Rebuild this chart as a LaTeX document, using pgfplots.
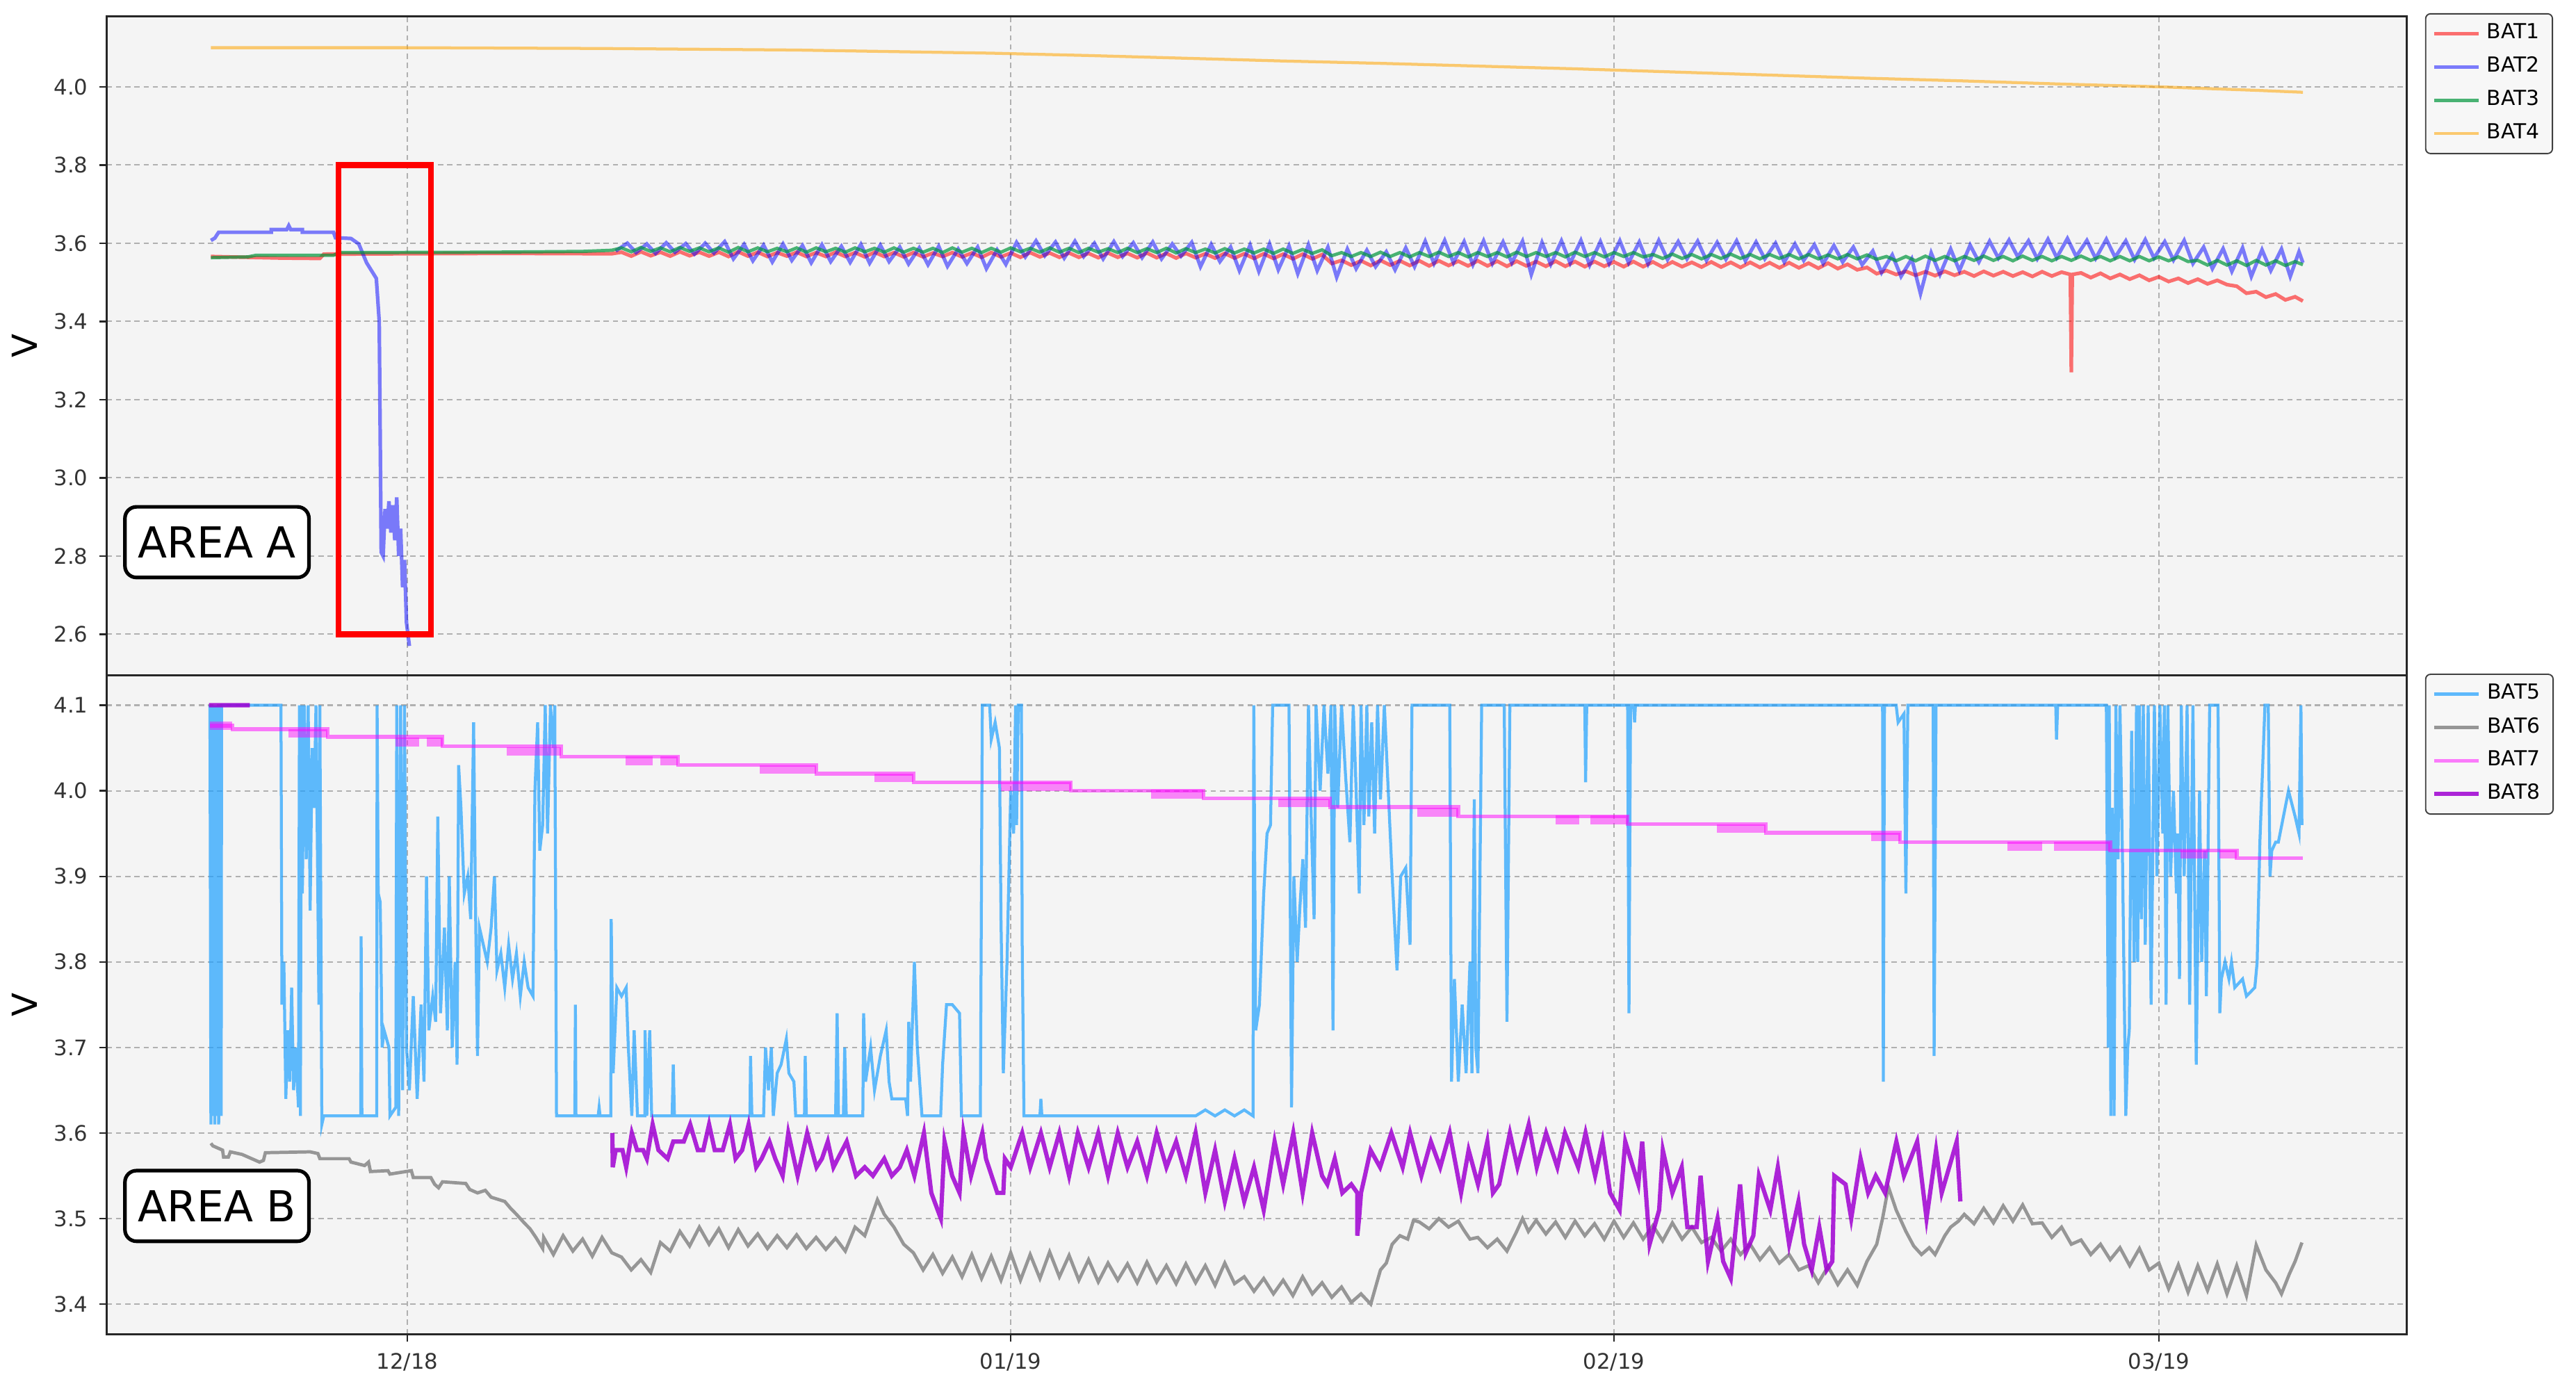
\documentclass[border=0pt]{standalone}
\usepackage{fontspec}
\setmainfont{DejaVu Sans}
\usepackage{pgfplots}
\pgfplotsset{compat=1.18}
\definecolor{bgc}{RGB}{244,244,244}
\definecolor{gridc}{RGB}{176,176,176}
\definecolor{c1}{RGB}{255,0,0}
\definecolor{c2}{RGB}{0,0,255}
\definecolor{c3}{RGB}{0,150,60}
\definecolor{c4}{RGB}{255,165,0}
\definecolor{c5}{RGB}{30,160,255}
\definecolor{c6}{RGB}{150,150,150}
\definecolor{c7}{RGB}{255,0,255}
\definecolor{c8}{RGB}{160,0,210}
\pgfplotsset{
 panel/.style={
  scale only axis, width=700pt, height=200.5pt,
  xmin=-15.45, xmax=102.74,
  axis background/.style={fill=bgc},
  grid=major,
  major grid style={gridc, dash pattern=on 1.6pt off 1.2pt, line width=0.45pt},
  axis line style={black!85, line width=0.7pt},
  tick align=outside, tick pos=left,
  major tick length=2.2pt,
  tick style={black!85, line width=0.5pt},
  tick label style={font=\fontsize{6.5}{7}\selectfont, text=black!80},
  /pgf/number format/assume math mode=true,
  yticklabel style={/pgf/number format/.cd, fixed, fixed zerofill, precision=1},
  xtick={0,31,62,90},
  ylabel={V},
  ylabel style={font=\fontsize{10.5}{12}\selectfont, at={(axis description cs:-0.0357,0.5)}, anchor=center},
  legend cell align=left,
  legend style={font=\fontsize{6.3}{7}\selectfont, draw=black!75, fill=white!97!black, rounded corners=1.5pt, anchor=north west, inner xsep=2pt, inner ysep=1pt, row sep=0pt},
  legend image code/.code={\draw[#1] (0pt,0pt) -- (13.5pt,0pt);},
  unbounded coords=jump,
 }
}
\begin{document}
\begin{tikzpicture}
\useasboundingbox (0,0) rectangle (784pt,421pt);
% ---------------- top panel ----------------
\begin{axis}[panel, at={(32.5pt,215.5pt)}, anchor=south west,
  ymin=2.495, ymax=4.18,
  ytick={2.6,2.8,3.0,3.2,3.4,3.6,3.8,4.0},
  xticklabels={}, xtick style={draw=none},
  legend style={at={(1.0079,1.005)}}]
\addplot[c1, opacity=0.55, line width=1.1pt] coordinates {
(-10.1,3.566) (-6.5,3.562) (-4.5,3.561) (-4.3,3.572) (0,3.573) (5,3.574) (10.5,3.573)
(11,3.577)(11.5,3.567)(12,3.578)(12.5,3.568)(13,3.577)(13.5,3.567)(14,3.578)(14.5,3.568)(15,3.577)(15.5,3.567)(16,3.577)(16.5,3.566)(17,3.578)(17.5,3.567)(18,3.577)(18.5,3.566)(19,3.576)(19.5,3.567)(20,3.577)(20.5,3.566)(21,3.576)(21.5,3.566)(22,3.577)(22.5,3.566)(23,3.576)(23.5,3.565)(24,3.577)(24.5,3.566)(25,3.576)(25.5,3.565)(26,3.576)(26.5,3.565)(27,3.575)(27.5,3.566)(28,3.576)(28.5,3.565)(29,3.575)(29.5,3.564)(30,3.576)(30.5,3.565)(31,3.575)(31.5,3.564)(32,3.576)(32.5,3.565)(33,3.575)(33.5,3.564)(34,3.575)(34.5,3.564)(35,3.574)(35.5,3.563)(36,3.575)(36.5,3.564)(37,3.574)(37.5,3.563)(38,3.575)(38.5,3.563)(39,3.574)(39.5,3.562)(40,3.574)(40.5,3.563)(41,3.573)(41.5,3.562)(42,3.574)(42.5,3.562)(43,3.573)(43.5,3.561)(44,3.573)(44.5,3.561)(45,3.572)(45.5,3.560)(46,3.572)(46.5,3.560)(47,3.571)
(47.5,3.548)(48,3.556)(48.5,3.544)(49,3.555)(49.5,3.543)(50,3.556)(50.5,3.544)(51,3.555)(51.5,3.543)(52,3.555)(52.5,3.542)(53,3.555)(53.5,3.543)(54,3.554)(54.5,3.542)(55,3.555)(55.5,3.542)(56,3.554)(56.5,3.541)(57,3.554)(57.5,3.542)(58,3.553)(58.5,3.541)(59,3.554)(59.5,3.541)(60,3.553)(60.5,3.540)(61,3.553)(61.5,3.541)(62,3.552)(62.5,3.540)(63,3.553)(63.5,3.540)(64,3.552)(64.5,3.539)(65,3.552)(65.5,3.540)(66,3.551)(66.5,3.539)(67,3.552)(67.5,3.539)(68,3.551)(68.5,3.538)(69,3.551)(69.5,3.538)(70,3.550)(70.5,3.537)(71,3.550)(71.5,3.537)(72,3.549)(72.5,3.536)(73,3.549)(73.5,3.535)(74,3.546)(74.5,3.532)(75,3.538)(75.5,3.522)
(76,3.530) (76.5,3.520) (77,3.528) (77.5,3.518) (78,3.527) (78.5,3.517) (79,3.528) (79.5,3.518) (80,3.527) (80.5,3.516) (81,3.528) (81.5,3.517) (82,3.527) (82.5,3.516) (83,3.526) (83.5,3.515) (84,3.527) (84.5,3.516) (85,3.526) (85.45,3.520) (85.5,3.270) (85.55,3.520) (86,3.524) (86.5,3.512) (87,3.523) (87.5,3.510) (88,3.520) (88.5,3.508) (89,3.518) (89.5,3.505) (90,3.514) (90.5,3.502) (91,3.510) (91.5,3.498) (92,3.508) (92.5,3.496) (93,3.505) (93.5,3.494) (94,3.490) (94.5,3.472) (95,3.476) (95.5,3.462) (96,3.470) (96.5,3.455) (97,3.463) (97.4,3.452)
};
\addlegendentry{BAT1}
\addplot[c2, opacity=0.5, line width=1.1pt] coordinates {
(-10.1,3.607) (-9.9,3.613) (-9.7,3.628) (-7.0,3.628) (-7.0,3.635) (-6.2,3.635) (-6.1,3.645) (-6.0,3.635) (-5.4,3.635) (-5.4,3.628) (-3.8,3.628) (-3.7,3.614) (-2.9,3.612) (-2.5,3.598) (-2.1,3.550) (-1.6,3.510) (-1.45,3.400) (-1.35,2.810) (-1.25,2.800) (-1.15,2.920) (-1.05,2.870) (-0.95,2.940) (-0.85,2.860) (-0.75,2.930) (-0.65,2.840) (-0.55,2.950) (-0.45,2.800) (-0.35,2.870) (-0.25,2.720) (-0.15,2.790) (-0.05,2.630) (0.1,2.570)
(5,nan)
(10.7,3.580) (11.3,3.600) (11.75,3.576) (12.3,3.598) (12.75,3.574) (13.3,3.601) (13.75,3.577) (14.3,3.599) (14.75,3.572) (15.3,3.600) (15.75,3.575) (16.3,3.604) (16.75,3.560) (17.3,3.597) (17.75,3.555) (18.3,3.595) (18.75,3.552) (19.3,3.598) (19.75,3.556) (20.3,3.594) (20.75,3.550) (21.3,3.596) (21.75,3.553) (22.3,3.592) (22.75,3.551) (23.3,3.597) (23.75,3.549) (24.3,3.595) (24.75,3.553) (25.3,3.590) (25.75,3.547) (26.3,3.588) (26.75,3.545) (27.3,3.592) (27.75,3.541) (28.3,3.585) (28.75,3.548) (29.3,3.590) (29.75,3.535) (30.3,3.583) (30.75,3.546) (31.3,3.602) (31.75,3.565) (32.3,3.606) (32.75,3.568) (33.3,3.603) (33.75,3.562) (34.3,3.605) (34.75,3.566) (35.3,3.600) (35.75,3.560) (36.3,3.604) (36.75,3.566) (37.3,3.601) (37.75,3.563) (38.3,3.603) (38.75,3.560) (39.3,3.598) (39.75,3.567) (40.3,3.602) (40.75,3.540) (41.3,3.597) (41.75,3.553) (42.3,3.590) (42.75,3.530) (43.3,3.595) (43.75,3.528) (44.3,3.598) (44.75,3.532) (45.3,3.593) (45.75,3.522) (46.3,3.596) (46.75,3.530) (47.3,3.590) (47.75,3.513) (48.3,3.585) (48.75,3.535) (49.3,3.582) (49.75,3.540) (50.3,3.578) (50.75,3.532) (51.3,3.588) (51.75,3.540) (52.3,3.605) (52.75,3.548) (53.3,3.607) (53.75,3.550) (54.3,3.604) (54.75,3.545) (55.3,3.606) (55.75,3.548) (56.3,3.603) (56.75,3.550) (57.3,3.605) (57.75,3.520) (58.3,3.602) (58.75,3.546) (59.3,3.606) (59.75,3.549) (60.3,3.607) (60.75,3.544) (61.3,3.604) (61.75,3.548) (62.3,3.606) (62.75,3.550) (63.3,3.603) (63.75,3.547) (64.3,3.607) (64.75,3.558) (65.3,3.604) (65.75,3.560) (66.3,3.605) (66.75,3.556) (67.3,3.602) (67.75,3.559) (68.3,3.606) (68.75,3.555) (69.3,3.603) (69.75,3.560) (70.3,3.600) (70.75,3.552) (71.3,3.598) (71.75,3.556) (72.3,3.596) (72.75,3.548) (73.3,3.594) (73.75,3.552) (74.3,3.590) (74.75,3.545) (75.3,3.580) (75.75,3.525) (76.3,3.570) (76.75,3.515) (77.3,3.560) (77.75,3.471) (78.3,3.575) (78.75,3.520) (79.3,3.585) (79.75,3.530) (80.3,3.595) (80.75,3.552) (81.3,3.605) (81.75,3.562) (82.3,3.608) (82.75,3.565) (83.3,3.606) (83.75,3.560) (84.3,3.610) (84.75,3.563) (85.3,3.612) (85.75,3.566) (86.3,3.607) (86.75,3.561) (87.3,3.610) (87.75,3.564) (88.3,3.606) (88.75,3.558) (89.3,3.609) (89.75,3.562) (90.3,3.604) (90.75,3.557) (91.3,3.607) (91.75,3.548) (92.3,3.590) (92.75,3.535) (93.3,3.586) (93.75,3.528) (94.3,3.588) (94.75,3.515) (95.3,3.583) (95.75,3.530) (96.3,3.585) (96.75,3.515) (97.2,3.578) (97.4,3.550)
};
\addlegendentry{BAT2}
\addplot[c3, opacity=0.7, line width=1.0pt] coordinates {
(-10.1,3.563) (-8.2,3.565) (-7.8,3.569) (-3.8,3.569) (-3.5,3.576) (4,3.577) (9,3.579) (10.5,3.582)
(11,3.588)(11.5,3.578)(12,3.589)(12.5,3.579)(13,3.588)(13.5,3.578)(14,3.589)(14.5,3.579)(15,3.588)(15.5,3.578)(16,3.588)(16.5,3.577)(17,3.589)(17.5,3.578)(18,3.588)(18.5,3.578)(19,3.587)(19.5,3.578)(20,3.588)(20.5,3.577)(21,3.588)(21.5,3.578)(22,3.587)(22.5,3.577)(23,3.588)(23.5,3.578)(24,3.587)(24.5,3.577)(25,3.588)(25.5,3.577)(26,3.587)(26.5,3.577)(27,3.587)(27.5,3.576)(28,3.588)(28.5,3.577)(29,3.587)(29.5,3.576)(30,3.587)(30.5,3.577)(31,3.588)(31.5,3.578)(32,3.587)(32.5,3.577)(33,3.588)(33.5,3.577)(34,3.587)(34.5,3.576)(35,3.587)(35.5,3.577)(36,3.586)(36.5,3.576)(37,3.587)(37.5,3.576)(38,3.586)(38.5,3.576)(39,3.587)(39.5,3.575)(40,3.586)(40.5,3.576)(41,3.585)(41.5,3.575)(42,3.586)(42.5,3.575)(43,3.585)(43.5,3.575)(44,3.585)(44.5,3.574)(45,3.585)(45.5,3.574)(46,3.584)(46.5,3.574)(47,3.583)
(47.5,3.568)(48,3.576)(48.5,3.566)(49,3.576)(49.5,3.566)(50,3.577)(50.5,3.566)(51,3.576)(51.5,3.565)(52,3.576)(52.5,3.566)(53,3.577)(53.5,3.566)(54,3.576)(54.5,3.565)(55,3.576)(55.5,3.566)(56,3.576)(56.5,3.565)(57,3.577)(57.5,3.566)(58,3.576)(58.5,3.566)(59,3.576)(59.5,3.565)(60,3.577)(60.5,3.566)(61,3.576)(61.5,3.565)(62,3.576)(62.5,3.566)(63,3.576)(63.5,3.565)
(64,3.571)(64.5,3.561)(65,3.572)(65.5,3.561)(66,3.571)(66.5,3.560)(67,3.571)(67.5,3.561)(68,3.572)(68.5,3.561)(69,3.571)(69.5,3.560)(70,3.571)(70.5,3.561)(71,3.571)(71.5,3.560)(72,3.571)(72.5,3.560)(73,3.570)(73.5,3.560)(74,3.571)(74.5,3.560)(75,3.570)(75.5,3.559)
(76,3.566)(76.5,3.555)(77,3.566)(77.5,3.555)(78,3.567)(78.5,3.556)(79,3.566)(79.5,3.555)(80,3.566)(80.5,3.556)(81,3.567)(81.5,3.556)(82,3.566)(82.5,3.555)(83,3.567)(83.5,3.556)(84,3.566)(84.5,3.555)(85,3.566)(85.5,3.556)(86,3.567)(86.5,3.556)(87,3.566)(87.5,3.555)(88,3.566)(88.5,3.555)(89,3.566)(89.5,3.555)(90,3.565)(90.5,3.555)(91,3.565)(91.5,3.553)
(92,3.556)(92.5,3.544)(93,3.556)(93.5,3.544)(94,3.555)(94.5,3.543)(95,3.556)(95.5,3.544)(96,3.555)(96.5,3.543)(97,3.553)(97.4,3.545)
};
\addlegendentry{BAT3}
\addplot[c4, opacity=0.55, line width=0.9pt] coordinates {
(-10.1,4.100) (0,4.100) (10,4.098) (20,4.094) (25,4.090) (30,4.086) (35,4.080) (40,4.073) (45,4.066) (50,4.060) (55,4.053) (60,4.046) (65,4.038) (70,4.030) (75,4.022) (80,4.015) (85,4.007) (90,4.000) (95,3.991) (97.4,3.986)
};
\addlegendentry{BAT4}
\draw[red, line width=1.8pt] (axis cs:-3.55,2.6) rectangle (axis cs:1.2,3.8);
\node[draw=black, line width=1.1pt, rounded corners=3.5pt, fill=white, font=\fontsize{13}{15}\selectfont, minimum width=56pt, minimum height=21.5pt, inner sep=1pt] at (rel axis cs:0.0479,0.202) {AREA A};
\end{axis}
% ---------------- bottom panel ----------------
\begin{axis}[panel, at={(32.5pt,15pt)}, anchor=south west,
  ymin=3.365, ymax=4.135,
  ytick={3.4,3.5,3.6,3.7,3.8,3.9,4.0,4.1},
  xticklabels={12/18,01/19,02/19,03/19},
  legend style={at={(1.0079,1.0025)}}]
\addplot[c5, opacity=0.7, line width=0.9pt] coordinates {
(-10.15,4.10) (-10.1,3.61) (-10.05,4.10) (-10.0,3.62) (-9.95,4.10) (-9.9,3.61) (-9.85,4.10) (-9.8,3.62) (-9.75,4.10) (-9.7,3.61) (-9.62,4.10) (-9.57,3.62) (-9.55,4.10)
(-6.5,4.10) (-6.45,3.75) (-6.35,3.80) (-6.25,3.64) (-6.15,3.72) (-6.05,3.66) (-5.95,3.77) (-5.85,3.65) (-5.75,3.70) (-5.6,3.63) (-5.55,4.10) (-5.5,3.62) (-5.45,4.10) (-5.4,3.88) (-5.3,4.10) (-5.2,3.92) (-5.1,4.10) (-5.0,3.86) (-4.9,4.05) (-4.8,3.98) (-4.7,4.10) (-4.55,3.75) (-4.5,4.10) (-4.4,3.61) (-4.3,3.62)
(-2.4,3.62) (-2.38,3.83) (-2.34,3.62) (-1.58,3.62) (-1.56,4.10) (-1.5,3.88) (-1.4,3.87) (-1.3,3.70) (-1.2,3.72) (-0.95,3.70) (-0.9,3.62) (-0.6,3.63) (-0.55,4.10) (-0.45,3.62) (-0.35,4.10) (-0.25,3.65) (-0.15,4.10) (-0.05,3.70) (0.1,3.65) (0.3,3.76) (0.5,3.64) (0.7,3.75) (0.85,3.66) (0.98,3.90) (1.1,3.72) (1.3,3.76) (1.45,3.73) (1.56,3.97) (1.7,3.74) (1.9,3.84) (2.05,3.72) (2.15,3.90) (2.3,3.70) (2.45,3.80) (2.55,3.68) (2.63,4.03) (2.75,3.98) (2.92,3.88) (3.1,3.90) (3.25,3.85) (3.4,4.08) (3.5,3.86) (3.6,3.69) (3.7,3.84) (3.9,3.82) (4.1,3.80) (4.3,3.84) (4.47,3.90) (4.6,3.79) (4.8,3.81) (5.0,3.77) (5.2,3.82) (5.4,3.78) (5.6,3.81) (5.8,3.76) (6.0,3.80) (6.2,3.77) (6.45,3.76) (6.55,4.00) (6.69,4.08) (6.8,3.93) (6.95,3.96) (7.08,4.10) (7.2,3.95) (7.35,4.10) (7.5,4.05) (7.57,4.10) (7.66,3.62)
(8.6,3.62) (8.63,3.75) (8.66,3.62) (9.8,3.62) (9.85,3.63) (9.9,3.62) (10.45,3.62) (10.47,3.85) (10.57,3.67) (10.76,3.77) (11.0,3.76) (11.24,3.77) (11.35,3.70) (11.53,3.62) (11.65,3.72) (11.82,3.62) (12.2,3.62) (12.21,3.72) (12.3,3.62) (12.45,3.72) (12.55,3.62)
(13.6,3.62) (13.66,3.68) (13.72,3.62) (17.6,3.62) (17.63,3.69) (17.7,3.62) (18.3,3.62) (18.4,3.70) (18.55,3.65) (18.7,3.70) (18.8,3.62) (19.0,3.67) (19.2,3.68) (19.47,3.71) (19.6,3.67) (19.86,3.66) (19.95,3.62)
(20.4,3.62) (20.44,3.69) (20.5,3.62) (22.0,3.62) (22.08,3.74) (22.15,3.62) (22.4,3.62) (22.47,3.70) (22.55,3.62) (23.4,3.62) (23.44,3.74) (23.54,3.66) (23.8,3.70) (24.0,3.65) (24.3,3.69) (24.6,3.72) (24.75,3.66) (24.89,3.64) (25.6,3.64) (25.7,3.62) (25.76,3.73) (25.85,3.66) (26.05,3.80) (26.2,3.70) (26.44,3.62) (27.4,3.62) (27.5,3.68) (27.7,3.75) (28.0,3.75) (28.37,3.74) (28.47,3.62) (29.44,3.62) (29.54,4.10) (29.92,4.10) (30.0,4.06) (30.2,4.08) (30.42,4.05) (30.5,3.85) (30.62,3.67) (30.81,3.80) (31.0,4.00) (31.15,3.95) (31.25,4.10) (31.3,3.96) (31.39,4.10) (31.55,4.10) (31.59,3.82) (31.68,3.62) (32.5,3.62) (32.55,3.64) (32.6,3.62)
(40.5,3.62) (41,3.627) (41.5,3.62) (42,3.627) (42.5,3.62) (43,3.627) (43.45,3.62)
(43.49,4.10) (43.59,3.72) (43.78,3.75) (44.0,3.88) (44.17,3.95) (44.35,3.96) (44.46,4.10) (45.3,4.10) (45.43,3.63) (45.55,3.90) (45.72,3.80) (45.85,3.86) (46.01,3.92) (46.15,3.84) (46.3,4.10) (46.45,3.96) (46.59,3.85) (46.69,4.10) (46.9,4.00) (47.1,4.10) (47.3,4.02) (47.46,4.10) (47.56,3.72) (47.65,4.10) (47.8,3.98) (48.0,4.10) (48.2,4.02) (48.43,3.94) (48.6,4.10) (48.75,4.00) (48.91,3.88) (49.0,4.10) (49.15,3.96) (49.3,4.10) (49.4,3.97) (49.55,4.08) (49.7,3.95) (49.85,4.10) (50.0,3.99) (50.2,4.10) (50.36,4.02) (50.6,3.90) (50.85,3.79) (51.04,3.90) (51.3,3.91) (51.52,3.82) (51.62,4.10) (53.56,4.10) (53.65,3.66) (53.8,3.78) (54.0,3.66) (54.2,3.75) (54.4,3.67) (54.6,3.80) (54.7,3.67) (54.82,3.99) (54.9,3.70) (55.01,3.67) (55.2,4.10) (56.36,4.10) (56.5,3.73) (56.65,4.10)
(60.5,4.10) (60.54,4.01) (60.6,4.10) (62.7,4.10) (62.77,3.74) (62.85,4.10) (63.0,4.10) (63.06,4.08) (63.1,4.10) (75.8,4.10) (75.84,3.66) (75.9,4.10) (76.5,4.10) (76.6,4.08) (76.9,4.09) (77.0,3.88) (77.1,4.10) (78.4,4.10) (78.45,3.69) (78.55,4.10) (84.7,4.10) (84.74,4.06) (84.8,4.10)
(87.3,4.10) (87.4,3.70) (87.45,4.10) (87.53,3.62) (87.6,3.98) (87.7,3.62) (87.79,4.10) (87.9,3.92) (88.0,4.10) (88.13,3.92) (88.3,3.62) (88.4,3.70) (88.48,3.72) (88.6,4.07) (88.73,3.80) (88.85,4.10) (88.91,3.80) (89.0,4.10) (89.1,3.85) (89.2,4.10) (89.3,3.82) (89.45,4.10) (89.6,3.75) (89.77,4.10) (89.9,3.90) (90.05,4.10) (90.2,3.95) (90.28,4.10) (90.37,3.75) (90.46,4.10) (90.6,3.90) (90.75,4.00) (90.9,3.88) (90.97,3.95) (91.06,3.78) (91.15,4.10) (91.3,3.90) (91.45,4.10) (91.58,3.75) (91.75,4.10) (91.92,3.68) (92.09,4.00) (92.2,3.80) (92.35,3.93) (92.44,3.76) (92.61,4.10) (93.04,4.10) (93.13,3.74) (93.21,3.78) (93.4,3.80) (93.6,3.78) (93.73,3.80) (93.9,3.77) (94.3,3.78) (94.5,3.76) (94.93,3.77) (95.05,3.80) (95.19,3.94) (95.45,4.10) (95.62,4.10) (95.71,3.90) (95.8,3.93) (96.0,3.94) (96.14,3.94) (96.4,3.97) (96.66,4.00) (97.0,3.97) (97.2,3.95) (97.3,4.10) (97.35,3.96)
};
\addlegendentry{BAT5}
\addplot[c6, line width=1.0pt] coordinates {
(-10.1,3.588) (-10.0,3.585) (-9.5,3.580) (-9.45,3.572) (-9.2,3.572) (-9.1,3.578) (-8.5,3.575) (-7.6,3.566) (-7.4,3.568) (-7.3,3.577) (-5.0,3.578) (-4.6,3.576) (-4.5,3.570) (-3.0,3.570) (-2.9,3.566) (-2.2,3.562) (-2.0,3.566) (-1.9,3.555) (-1.0,3.556) (-0.9,3.552) (0.2,3.556) (0.3,3.548) (1.2,3.548) (1.4,3.540) (1.6,3.536) (1.8,3.543) (3.0,3.541) (3.2,3.534) (3.6,3.530) (4.0,3.533) (4.3,3.525) (5.0,3.520) (5.3,3.512) (5.6,3.505) (6.0,3.495) (6.3,3.488) (6.6,3.478) (6.95,3.465)
(7.0,3.478) (7.5,3.458) (8.0,3.480) (8.5,3.462) (9.0,3.476) (9.5,3.456) (10.0,3.478) (10.5,3.460) (11.0,3.455) (11.5,3.440) (12.0,3.452) (12.5,3.437) (13.0,3.472) (13.5,3.462) (14.0,3.485) (14.5,3.468) (15.0,3.490) (15.5,3.470) (16.0,3.488) (16.5,3.466) (17.0,3.487) (17.5,3.468) (18.0,3.482) (18.5,3.465) (19.0,3.480) (19.5,3.466) (20.0,3.481) (20.5,3.465) (21.0,3.478) (21.5,3.464) (22.0,3.477) (22.5,3.462) (23.0,3.490) (23.5,3.480) (24.15,3.522) (24.5,3.505) (25.0,3.490) (25.5,3.470) (26.0,3.460) (26.5,3.440) (27.0,3.458) (27.5,3.436) (28.0,3.455) (28.5,3.432) (29.0,3.458) (29.5,3.430) (30.0,3.456) (30.5,3.428) (31.0,3.460) (31.5,3.428) (32.0,3.458) (32.5,3.430) (33.0,3.461) (33.5,3.432) (34.0,3.457) (34.5,3.428) (35.0,3.452) (35.5,3.426) (36.0,3.448) (36.5,3.428) (37.0,3.447) (37.5,3.425) (38.0,3.449) (38.5,3.426) (39.0,3.445) (39.5,3.424) (40.0,3.447) (40.5,3.425) (41.0,3.445) (41.5,3.422) (42.0,3.448) (42.5,3.424) (43.0,3.432) (43.5,3.415) (44.0,3.430) (44.5,3.412) (45.0,3.428) (45.5,3.410) (46.0,3.432) (46.5,3.412) (47.0,3.425) (47.5,3.408) (48.0,3.420) (48.5,3.402) (49.0,3.412) (49.5,3.400) (50.0,3.440) (50.3,3.448) (50.6,3.470) (51.0,3.480) (51.4,3.476) (51.7,3.498) (52.0,3.496) (52.5,3.488) (53.0,3.500) (53.5,3.490) (54.0,3.497) (54.3,3.486) (54.6,3.476) (55.0,3.478) (55.5,3.466) (56.0,3.476) (56.5,3.462) (57.0,3.485) (57.3,3.500) (57.6,3.485) (58.0,3.498) (58.5,3.482) (59.0,3.496) (59.5,3.478) (60.0,3.497) (60.5,3.480) (61.0,3.494) (61.5,3.476) (62.0,3.497) (62.5,3.478) (63.0,3.495) (63.5,3.476) (64.0,3.492) (64.5,3.474) (65.0,3.495) (65.5,3.476) (66.0,3.490) (66.5,3.472) (67.0,3.478) (67.5,3.462) (68.0,3.476) (68.5,3.458) (69.0,3.470) (69.5,3.452) (70.0,3.466) (70.5,3.448) (71.0,3.458) (71.5,3.440) (72.0,3.445) (72.5,3.425) (73.0,3.444) (73.5,3.423) (74.0,3.440) (74.5,3.422) (75.0,3.450) (75.5,3.470) (75.8,3.500) (76.1,3.537) (76.5,3.510) (77.0,3.485) (77.4,3.468) (77.8,3.458) (78.2,3.466) (78.5,3.458) (79.0,3.480) (79.3,3.490) (79.7,3.497) (80.0,3.505) (80.5,3.494) (81.0,3.512) (81.5,3.495) (82.0,3.515) (82.5,3.497) (83.0,3.516) (83.5,3.494) (84.0,3.495) (84.5,3.478) (85.0,3.490) (85.5,3.470) (86.0,3.475) (86.5,3.458) (87.0,3.470) (87.5,3.452) (88.0,3.466) (88.5,3.445) (89.0,3.465) (89.5,3.440) (90.0,3.448) (90.5,3.418) (91.0,3.446) (91.5,3.414) (92.0,3.445) (92.5,3.416) (93.0,3.447) (93.5,3.412) (94.0,3.445) (94.5,3.410) (95.0,3.469) (95.5,3.440) (96.0,3.425) (96.3,3.412) (96.7,3.435) (97.0,3.450) (97.35,3.472)
};
\addlegendentry{BAT6}
\addplot[c7, opacity=0.5, line width=1.1pt] coordinates {
(-10.15,4.076) (-9.0,4.076) (-9.0,4.072) (-6.1,4.072) (-4.1,4.072) (-4.1,4.063) (-0.6,4.063) (1.8,4.063) (1.8,4.052) (5.1,4.052) (7.9,4.052) (7.9,4.040) (11.2,4.040) (13.9,4.040) (13.9,4.030) (18.1,4.030) (21,4.030) (21,4.020) (24,4.020) (26,4.020) (26,4.010) (30.5,4.010) (34.1,4.010) (34.1,4.000) (38.2,4.000) (40.9,4.000) (40.9,3.991) (44.75,3.991) (47.4,3.991) (47.4,3.981) (51.9,3.981) (54,3.981) (54,3.970) (59,3.970) (62.7,3.970) (62.7,3.961) (67.3,3.961) (69.8,3.961) (69.8,3.951) (75.2,3.951) (76.7,3.951) (76.7,3.940) (82.2,3.940) (87.5,3.940) (87.5,3.930) (91.1,3.930) (94,3.930) (94,3.921) (97.4,3.921)
};
\addlegendentry{BAT7}
\addplot[c7, opacity=0.45, line width=2.6pt, forget plot] coordinates {
(-10.15,4.076) (-9.0,4.076) (-8,nan)
(-6.1,4.067) (-4.1,4.067) (-3,nan)
(-0.6,4.057) (0.6,4.057) (0.8,nan) (1.0,4.057) (1.8,4.057) (3,nan)
(5.1,4.046) (7.9,4.046) (9,nan)
(11.2,4.035) (12.6,4.035) (12.8,nan) (13.0,4.035) (13.9,4.035) (15,nan)
(18.1,4.025) (21,4.025) (22,nan)
(24,4.015) (26,4.015) (27,nan)
(30.5,4.005) (34.1,4.005) (35,nan)
(38.2,3.996) (40.9,3.996) (42,nan)
(44.75,3.986) (47.4,3.986) (48,nan)
(51.9,3.975) (54,3.975) (55,nan)
(59,3.966) (60.2,3.966) (60.5,nan) (60.8,3.966) (62.7,3.966) (64,nan)
(67.3,3.956) (69.8,3.956) (71,nan)
(75.2,3.946) (76.7,3.946) (78,nan)
(82.2,3.935) (84.0,3.935) (84.3,nan) (84.6,3.935) (87.5,3.935) (89,nan)
(91.1,3.926) (92.5,3.926) (92.8,nan) (93.1,3.926) (94,3.926)
};
\addplot[c8, opacity=0.85, line width=1.3pt] coordinates {
(-10.2,4.10) (-8.1,4.10) (0,nan)
(10.53,3.60) (10.55,3.56) (10.7,3.58) (11.05,3.58) (11.24,3.56) (11.53,3.60) (11.8,3.58) (12.11,3.58) (12.3,3.57) (12.6,3.61) (12.9,3.58) (13.37,3.57) (13.66,3.59) (14.2,3.59) (14.53,3.61) (14.92,3.58) (15.2,3.58) (15.5,3.61) (15.79,3.58) (16.2,3.58) (16.57,3.61) (16.86,3.57) (17.2,3.58) (17.53,3.61) (17.92,3.56) (18.2,3.57) (18.6,3.59) (18.9,3.57) (19.28,3.55) (19.57,3.60) (20.05,3.55) (20.54,3.60) (21.02,3.56) (21.3,3.57) (21.6,3.59) (21.89,3.56) (22.57,3.59) (23.05,3.55) (23.5,3.56) (23.92,3.55) (24.5,3.57) (24.89,3.55) (25.3,3.56) (25.66,3.58) (26.05,3.55) (26.54,3.60) (26.92,3.53) (27.41,3.50) (27.6,3.59) (27.99,3.55) (28.37,3.53) (28.57,3.60) (28.96,3.55) (29.54,3.60) (29.73,3.57) (30.31,3.53) (30.62,3.53) (30.7,3.57) (31.0,3.56) (31.59,3.60) (32.0,3.56) (32.55,3.60) (33.0,3.56) (33.5,3.60) (34.0,3.55) (34.45,3.60) (35.0,3.56) (35.5,3.60) (36.0,3.55) (36.5,3.60) (37.0,3.56) (37.5,3.59) (38.0,3.55) (38.5,3.60) (39.0,3.56) (39.5,3.59) (40.0,3.55) (40.5,3.60) (41.0,3.53) (41.5,3.58) (42.0,3.52) (42.5,3.57) (43.0,3.52) (43.5,3.56) (44.0,3.51) (44.56,3.59) (45.0,3.54) (45.52,3.60) (46.0,3.53) (46.49,3.60) (47.0,3.55) (47.27,3.54) (47.65,3.57) (48.04,3.53) (48.5,3.54) (48.81,3.53) (48.81,3.48) (48.9,3.50) (49.0,3.53) (49.2,3.55) (49.49,3.58) (49.98,3.56) (50.56,3.60) (51.14,3.56) (51.52,3.60) (52.1,3.55) (52.59,3.59) (53.07,3.56) (53.56,3.60) (54.14,3.53) (54.53,3.58) (55.01,3.54) (55.49,3.59) (55.78,3.53) (56.1,3.54) (56.65,3.60) (57.04,3.56) (57.62,3.61) (58.03,3.56) (58.51,3.60) (59.09,3.56) (59.48,3.60) (60.16,3.56) (60.54,3.60) (61.03,3.55) (61.41,3.59) (61.8,3.53) (62.29,3.51) (62.58,3.59) (63.25,3.54) (63.45,3.59) (63.83,3.47) (64.32,3.51) (64.51,3.58) (65.0,3.53) (65.48,3.56) (65.77,3.49) (66.25,3.49) (66.45,3.55) (66.83,3.45) (67.32,3.50) (67.61,3.45) (68.0,3.43) (68.48,3.54) (68.77,3.46) (69.16,3.48) (69.45,3.55) (70.03,3.51) (70.42,3.56) (71.0,3.47) (71.48,3.52) (71.77,3.47) (72.16,3.44) (72.55,3.49) (72.93,3.44) (73.22,3.45) (73.32,3.55) (73.9,3.54) (74.19,3.50) (74.67,3.57) (75.06,3.53) (75.45,3.55) (75.93,3.53) (76.51,3.59) (76.9,3.55) (77.58,3.59) (78.06,3.50) (78.55,3.58) (78.84,3.53) (79.61,3.59) (79.8,3.52)
};
\addlegendentry{BAT8}
\node[draw=black, line width=1.1pt, rounded corners=3.5pt, fill=white, font=\fontsize{13}{15}\selectfont, minimum width=56pt, minimum height=21.5pt, inner sep=1pt] at (rel axis cs:0.0479,0.1945) {AREA B};
\end{axis}
\end{tikzpicture}
\end{document}
